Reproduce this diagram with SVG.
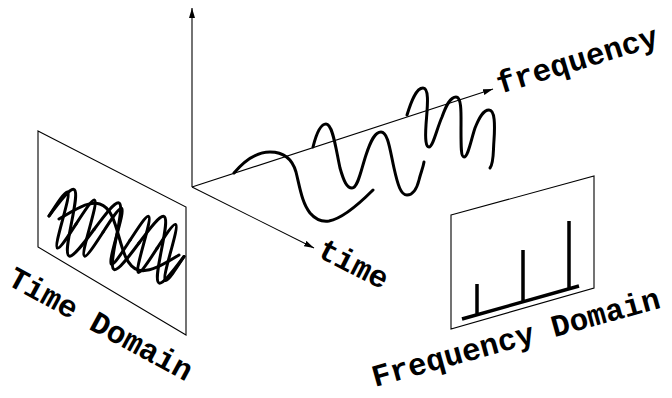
<svg xmlns="http://www.w3.org/2000/svg" xmlns:xlink="http://www.w3.org/1999/xlink" width="672" height="398" viewBox="0 0 672 398">
<style>
.axis{fill:none;stroke:#000;stroke-width:1.1}
.panel{fill:#fff;stroke:#000;stroke-width:1.1}
.wave{fill:none;stroke:#000;stroke-width:3;stroke-linecap:round;stroke-linejoin:round}
.pw{fill:none;stroke:#000;stroke-width:3;stroke-linecap:round;stroke-linejoin:round;vector-effect:non-scaling-stroke}
.bar{fill:none;stroke:#000;stroke-width:3.5;stroke-linecap:butt}
.lbl{font-family:"Liberation Mono","Courier New",monospace;font-weight:bold;font-size:31px;fill:#000}
</style>
<defs>
<marker id="ah" markerUnits="userSpaceOnUse" markerWidth="11" markerHeight="7" refX="10" refY="3" orient="auto">
<path d="M0,0 L10,3 L0,6 z" fill="#000"/>
</marker>
<path id="cycH" class="pw" d="M0,0 C2.201,-13.32 4.307,-26 6.75,-26 S11.30,-13.32 13.5,0 S17.81,26 20.25,26 S24.80,13.32 27,0"/>
<path id="cycM" class="pw" d="M0,0 C3.669,-15.37 7.179,-30 11.25,-30 S18.83,-15.37 22.5,0 S29.68,30 33.75,30 S41.33,15.37 45,0"/>
<path id="cycL" class="pw" d="M0,0 C9.783,-12.3 19.14,-24 30,-24 S50.22,-12.3 60,0 S79.14,24 90,24 S110.2,12.3 120,0"/>
</defs>
<g id="connectors">
<path class="axis" d="M192,187 L192,8" marker-end="url(#ah)"/>
<path class="axis" d="M192,187 L493,89" marker-end="url(#ah)"/>
<path class="axis" d="M192,187 L314,248" marker-end="url(#ah)"/>
</g>
<g id="wave3d">
<path class="wave" d="M234,173 C245,160 258,152 270,152 C282,152 292,158 296,172 C300,188 302,203 310,213 C316,220 322,222 329,221 C340,219 355,208 373,190"/>
<path class="wave" d="M313,147 C316,135 320,124 326,124 C333,124 336,150 340,168 C344,182 347,188 352,188 C358,188 361,170 366,155 C371,140 375,132 381,132 C388,132 390,150 394,168 C398,186 401,195 407,195 C413,195 417,188 419,180 C421,172 423,168 424,162"/>
<path class="wave" d="M407,115 C411,102 416,88 423,88 C430,88 427,110 426,125 C425,140 426,147 429,147 C433,147 437,128 442,117 C446,106 450,97 456,97 C462,97 461,115 461,130 C461,148 461,157 464,157 C468,157 471,140 475,128 C479,118 483,110 489,110 C495,110 495,125 494,140 C493,152 494,163 490,168"/>
</g>
<g id="time-domain">
<polygon class="panel" points="38,131 186,207 186,335 38,247"/>
<g transform="matrix(1,0.3,-0.45,1,49,216)">
<use xlink:href="#cycH" x="0"/><use xlink:href="#cycH" x="27"/><use xlink:href="#cycH" x="54"/><use xlink:href="#cycH" x="81"/><use xlink:href="#cycH" x="108"/>
<use xlink:href="#cycM" x="0"/><use xlink:href="#cycM" x="45"/><use xlink:href="#cycM" x="90"/>
<use xlink:href="#cycL" x="10"/>
</g>
</g>
<g id="frequency-domain">
<polygon class="panel" points="451,215 594,176 594,288 451,329"/>
<path class="bar" d="M462,319 L579,286 M477,284 L477,315 M523,250 L523,302 M569,221 L569,289"/>
</g>
<g id="labels">
<text class="lbl" transform="translate(500,94) rotate(-17)">frequency</text>
<text class="lbl" transform="translate(316,256) rotate(27)">time</text>
<text class="lbl" transform="translate(6,284) rotate(28.5)">Time Domain</text>
<text class="lbl" transform="translate(375,387) rotate(-15.5)">Frequency Domain</text>
</g>
</svg>
